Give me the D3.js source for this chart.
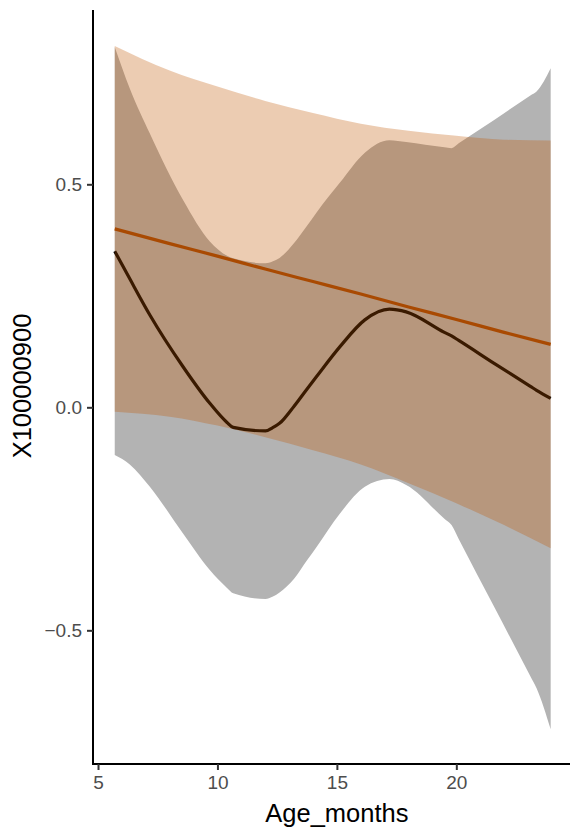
<!DOCTYPE html>
<html>
<head>
<meta charset="utf-8">
<script src="https://cdn.jsdelivr.net/npm/d3@7"></script>
<style>
  body { margin: 0; background: #fff; }
  svg { display: block; font-family: "Liberation Sans", Arial, sans-serif; }
</style>
</head>
<body>
<svg id="chart" width="570" height="833"></svg>
<script>
// linear fit (orange)
const lmX     = [5.7, 8, 10, 12, 14, 16, 18, 20, 22, 23.95];
const lmFit   = [0.400, 0.367, 0.339, 0.310, 0.282, 0.254, 0.225, 0.197, 0.168, 0.141];
const lmUpper = [0.810, 0.755, 0.719, 0.687, 0.660, 0.636, 0.620, 0.609, 0.600, 0.598];
const lmLower = [-0.010, -0.021, -0.041, -0.067, -0.096, -0.128, -0.170, -0.215, -0.264, -0.316];

// loess fit (dark)
const loX     = [5.70, 6.33, 7.17, 8.56, 9.68, 10.4, 10.66, 12.01, 12.3, 12.6, 13.2, 13.72, 14.15, 15.13, 16.17, 17.2, 17.9, 19.5, 19.8, 20.1, 21.6, 23.1, 23.36, 23.95];
const loFit   = [0.350, 0.288, 0.207, 0.091, 0.009, -0.034, -0.045, -0.053, -0.046, -0.036, 0.002, 0.039, 0.069, 0.136, 0.196, 0.220, 0.214, 0.168, 0.160, 0.150, 0.098, 0.047, 0.038, 0.020];
const loUpper = [0.808, 0.715, 0.614, 0.465, 0.372, 0.340, 0.334, 0.323, 0.327, 0.335, 0.368, 0.405, 0.437, 0.504, 0.571, 0.599, 0.595, 0.583, 0.581, 0.592, 0.645, 0.699, 0.708, 0.760];
const loLower = [-0.107, -0.128, -0.178, -0.283, -0.365, -0.405, -0.417, -0.430, -0.425, -0.415, -0.385, -0.345, -0.313, -0.238, -0.178, -0.161, -0.174, -0.250, -0.264, -0.295, -0.449, -0.603, -0.630, -0.722];

const xTicks = [5, 10, 15, 20];
const yTicks = [-0.5, 0.0, 0.5];

const svg = d3.select('#chart');

const x = d3.scaleLinear().domain([4.79, 24.55]).range([93, 565]);
const y = d3.scaleLinear().domain([-0.793, 0.889]).range([761, 10.8]);

const lm = lmX.map((d, i) => ({ x: d, fit: lmFit[i], hi: lmUpper[i], lo: lmLower[i] }));
const lo = loX.map((d, i) => ({ x: d, fit: loFit[i], hi: loUpper[i], lo: loLower[i] }));

const area = d3.area()
	.x((d) => x(d.x))
	.y0((d) => y(d.lo))
	.y1((d) => y(d.hi))
	.curve(d3.curveMonotoneX);

const line = d3.line()
	.x((d) => x(d.x))
	.y((d) => y(d.fit))
	.curve(d3.curveMonotoneX);

// grey ribbon + dark line, then the orange ribbon over them
svg.append('path').attr('d', area(lo)).attr('fill', '#b3b3b3');
svg.append('path').attr('d', line(lo))
	.attr('fill', 'none').attr('stroke', '#000').attr('stroke-width', 3.2)
	.attr('stroke-linejoin', 'round');

svg.append('path').attr('d', area(lm)).attr('fill', '#c05500').attr('fill-opacity', 0.3);
svg.append('path').attr('d', line(lm))
	.attr('fill', 'none').attr('stroke', '#a94a02').attr('stroke-width', 3.2);

// axes
const xAxis = svg.append('g')
	.attr('transform', 'translate(0,764)')
	.call(d3.axisBottom(x).tickValues(xTicks).tickFormat(d3.format('d')).tickSize(6).tickPadding(6));

const yAxis = svg.append('g')
	.attr('transform', 'translate(93,0)')
	.call(d3.axisLeft(y).tickValues(yTicks).tickFormat((d) => d3.format('.1f')(d).replace('-', '\u2212')).tickSize(6).tickPadding(5));

xAxis.select('.domain').attr('d', 'M92,0H570').attr('stroke-width', 2);
yAxis.select('.domain').attr('d', 'M0,10H0V765').attr('stroke-width', 2);

svg.selectAll('.tick line').attr('stroke', '#333').attr('stroke-width', 2);
svg.selectAll('.tick text').attr('fill', '#4d4d4d').style('font-size', '19px')
	.style('font-family', '"Liberation Sans", Arial, sans-serif');

// titles
svg.append('text')
	.attr('x', x(15)).attr('y', 822)
	.attr('text-anchor', 'middle')
	.style('font-size', '25.5px')
	.text('Age_months');

svg.append('text')
	.attr('transform', 'translate(31,386) rotate(-90)')
	.attr('text-anchor', 'middle')
	.style('font-size', '25.5px')
	.text('X100000900');
</script>
</body>
</html>
